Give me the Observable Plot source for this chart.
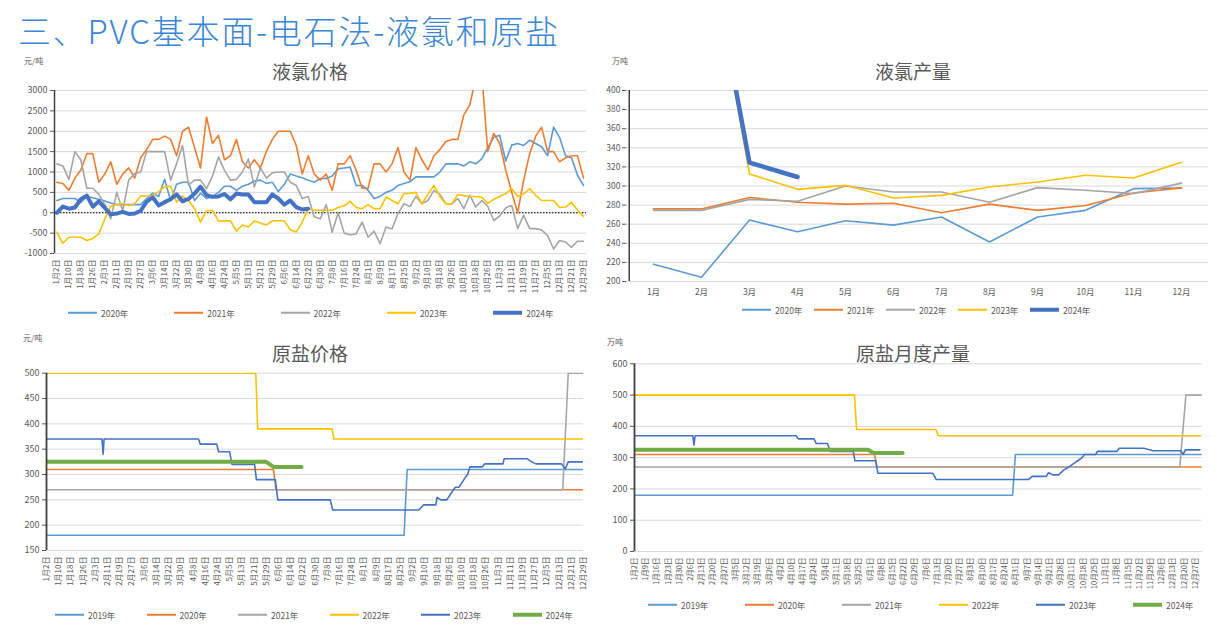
<!DOCTYPE html>
<html><head><meta charset="utf-8">
<script src="https://cdn.jsdelivr.net/npm/d3@7"></script>
<script src="https://cdn.jsdelivr.net/npm/@observablehq/plot@0.6"></script>
<style>
body{margin:0;background:#fff;}
#root{position:relative;width:1226px;height:625px;overflow:hidden;background:#fff;font-family:"Noto Sans CJK SC","Noto Sans",sans-serif;color:#595959;}
.abs{position:absolute;}
.main-title{font-size:33px;font-weight:300;letter-spacing:1.8px;color:#3a86d4;line-height:1;white-space:nowrap;}
.ctitle{font-size:19px;color:#595959;transform:translateX(-50%);white-space:nowrap;line-height:1;}
.unit{font-size:8px;line-height:1;white-space:nowrap;}
.leg{font-size:8.5px;line-height:1;display:flex;align-items:center;white-space:nowrap;transform:translateY(-50%);}
.leg i{display:inline-block;width:29px;margin-right:4px;}
</style></head><body><div id="root"></div>
<script>
// ================= DATA =================
// 液氯价格 (元/吨), category axis, one value every half label step
const dateLabels8 = ["1月2日","1月10日","1月18日","1月26日","2月3日","2月11日","2月19日","2月27日","3月6日","3月14日","3月22日","3月30日","4月8日","4月16日","4月24日","5月5日","5月13日","5月21日","5月29日","6月6日","6月14日","6月22日","6月30日","7月8日","7月16日","7月24日","8月1日","8月9日","8月17日","8月25日","9月2日","9月10日","9月18日","9月26日","10月10日","10月18日","10月26日","11月3日","11月11日","11月19日","11月27日","12月5日","12月13日","12月21日","12月29日"];
const priceTicks = [-1000,-500,0,500,1000,1500,2000,2500,3000];
const price2020 = [300,350, 350,350, 250,400, 370,330, 290,240, 200,200, 200,200, 200,350, 480,400, 820,300, 700,750, 750,300, 480,350, 400,500, 650,650, 550,650, 700,780, 800,720, 750,520, 700,950, 900,860, 800,750, 840,840, 900,1080, 1100,1120, 670,670, 550,350, 400,500, 550,670, 720,760, 880,880, 880,880, 1000,1200, 1200,1200, 1150,1250, 1200,1320, 1600,1850, 1900,1270, 1660,1700, 1650,1780, 1700,1620, 1400,2100, 1850,1400, 1350,920, 670];
const price2021 = [750,720, 550,850, 1050,1450, 1450,750, 950,1250, 700,950, 1100,850, 1350,1550, 1800,1800, 1880,1800, 1400,2000, 2100,1600, 1100,2350, 1700,1900, 1300,1400, 1800,1250, 1100,1300, 1100,1500, 1800,2000, 2000,2000, 1650,950, 1400,950, 800,950, 550,1200, 1200,1400, 1050,600, 600,1200, 1200,1000, 1200,1600, 1000,800, 1600,1300, 1050,1400, 1550,1750, 1800,1800, 2400,2650, 3300,3400, 1500,1950, 1700,1050, 500,0, 800,1450, 1880,2100, 1500,1500, 1250,1350, 1400,1400, 850];
const price2022 = [1200,1150, 820,1500, 1300,600, 600,450, 200,-150, 500,50, 800,960, 1000,1500, 1500,1500, 1500,800, 1200,1650, 680,800, 800,590, 900,1370, 1040,800, 820,1000, 1320,630, 1100,850, 980,1000, 1000,750, 670,350, 400,-100, -150,200, -480,0, -500,-540, -520,-230, -600,-450, -760,-350, -400,-20, 220,150, 400,220, 300,550, 450,220, 220,350, 100,430, 140,300, 160,-190, -80,120, 180,-390, -60,-390, -390,-420, -560,-890, -680,-720, -850,-700, -700];
const price2023 = [-480,-750, -600,-600, -600,-680, -630,-520, -150,160, 200,220, 180,220, 410,410, 420,520, 640,650, 260,410, 300,100, -230,50, 60,-200, -200,-200, -450,-300, -350,-200, -250,-300, -200,-190, -200,-420, -470,-230, 100,60, 60,60, 60,130, 170,280, 130,100, 200,100, 100,385, 300,220, 470,480, 500,220, 450,670, 400,220, 220,450, 420,400, 400,380, 230,330, 400,470, 590,400, 460,590, 430,300, 300,300, 130,140, 260,60, -90];
const price2024 = [0,150, 100,130, 330,420, 150,280, 120,-40, -20,20, -30,-20, 50,270, 380,180, 260,330, 450,280, 340,470, 640,430, 390,400, 460,330, 470,450, 450,260, 260,260, 450,350, 200,300, 140,80, 100];
const priceYears = ["2020年","2021年","2022年","2023年","2024年"];

// 液氯产量 (万吨)
const months = ["1月","2月","3月","4月","5月","6月","7月","8月","9月","10月","11月","12月"];
const outputTicks = [200,220,240,260,280,300,320,340,360,380,400];
const output2020 = [218,204.5,264.3,252,263.6,259,267.5,241.3,267.5,274.5,297.2,297.9];
const output2021 = [276,276,288,283,281,282,272,281,274.5,279.5,292.7,298];
const output2022 = [274.5,274.5,286,284,300,293.7,293.7,283,298.3,295.5,292,303];
const output2023 = [null,596,312.6,296.5,300.7,287.4,290.2,299,304.2,311.2,308.4,324.8];
const output2024 = [null,594,324.5,309.4];
const outputYears = ["2020年","2021年","2022年","2023年","2024年"];

// 原盐价格 (元/吨): [label index, value] break points
const saltTicks = [150,200,250,300,350,400,450,500];
const salt2019 = [[0,180],[29.3,180],[29.55,310],[44,310]];
const salt2020 = [[0,310],[18.6,310],[18.8,270],[44,270]];
const salt2021 = [[0,270],[42.3,270],[42.75,500],[44,500]];
const salt2022 = [[0,500],[17.15,500],[17.3,390],[23.4,390],[23.55,370],[44,370]];
const salt2023 = [[0,370],[4.55,370],[4.64,340],[4.72,370],[12.45,370],[12.6,360],[13.95,360],[14.1,345],[15.0,345],[15.2,320],[17.05,320],[17.2,290],[18.75,290],[18.95,250],[23.25,250],[23.45,230],[30.5,230],[30.9,240],[31.9,240],[32.0,255],[32.3,250],[32.8,250],[33.2,265],[33.5,275],[33.8,275],[34.2,290],[34.5,300],[34.7,315],[35.7,315],[35.9,321],[37.4,321],[37.5,331],[39.4,331],[39.7,326],[40.1,321],[42.2,321],[42.5,311],[42.75,325],[43.9,325]];
const salt2024 = [[0,325],[18.0,325],[18.3,320],[18.6,315],[20.9,315]];
const saltYears = ["2019年","2020年","2021年","2022年","2023年","2024年"];

// 原盐月度产量 (万吨): [label index, value] break points
const dateLabels7 = ["1月2日","1月9日","1月16日","1月23日","1月30日","2月6日","2月13日","2月20日","2月27日","3月5日","3月12日","3月19日","3月26日","4月2日","4月10日","4月17日","4月24日","5月4日","5月11日","5月18日","5月25日","6月1日","6月8日","6月15日","6月22日","6月29日","7月6日","7月13日","7月20日","7月27日","8月3日","8月10日","8月17日","8月24日","8月31日","9月7日","9月14日","9月21日","9月28日","10月11日","10月18日","10月25日","11月1日","11月8日","11月15日","11月22日","11月29日","12月6日","12月13日","12月20日","12月27日"];
const monTicks = [0,100,200,300,400,500,600];
const mon2019 = [[0,180],[33.7,180],[33.95,310],[50.6,310]];
const mon2020 = [[0,310],[21.4,310],[21.6,270],[50.6,270]];
const mon2021 = [[0,270],[48.6,270],[49.15,500],[50.6,500]];
const mon2022 = [[0,500],[19.6,500],[19.8,390],[26.85,390],[27.1,370],[50.5,370]];
const mon2023 = [[0,370],[5.2,370],[5.3,340],[5.4,370],[14.4,370],[14.6,360],[16.0,360],[16.2,345],[17.2,345],[17.45,320],[19.5,320],[19.65,290],[21.5,290],[21.7,250],[26.6,250],[26.9,230],[35.1,230],[35.45,240],[36.7,240],[36.9,252],[37.3,245],[37.8,245],[38.25,260],[38.7,270],[39.1,280],[39.5,290],[39.9,300],[40.1,310],[41.1,310],[41.25,320],[43.0,320],[43.2,330],[45.4,330],[46.2,322],[48.7,322],[48.9,310],[49.1,325],[50.4,325]];
const mon2024 = [[0,325],[20.8,325],[21.3,315],[23.9,315]];

// ================= STYLE =================
const FONT = '"Noto Sans CJK SC","Noto Sans",sans-serif';
const C5 = ["#5b9bd5","#ed7d31","#a5a5a5","#ffc000","#4472c4"];
const C6 = ["#5b9bd5","#ed7d31","#a5a5a5","#ffc000","#4472c4","#70ad47"];
const GRID = "#d9d9d9", AXIS = "#404040";
const baseStyle = {background:"transparent",color:"#595959",fontFamily:FONT,fontSize:"9px",overflow:"visible"};
const plain = d => String(d);

const root = document.getElementById("root");
function place(el, left, top){ el.style.position="absolute"; el.style.left=left+"px"; el.style.top=top+"px"; root.appendChild(el); return el; }
function textDiv(cls, txt, left, top){ const d=document.createElement("div"); d.className="abs "+cls; d.textContent=txt; d.style.left=left+"px"; d.style.top=top+"px"; root.appendChild(d); return d; }
function legend(names, colors, thickLast, x0, step, yc){
  names.forEach((n,k)=>{
    const d=document.createElement("div"); d.className="abs leg";
    const w = (thickLast && k===names.length-1) ? 4 : 2;
    d.innerHTML = `<i style="height:${w}px;background:${colors[k]}"></i><span>${n}</span>`;
    d.style.left=(x0+k*step)+"px"; d.style.top=yc+"px"; root.appendChild(d);
  });
}
const half = arr => arr.map((v,k)=>({x:k/2,y:v}));
const pairs = arr => arr.map(([x,y])=>({x,y}));

textDiv("main-title","三、PVC基本面-电石法-液氯和原盐",18,14);

// ---------- A: 液氯价格 ----------
const priceSeries=[price2020,price2021,price2022,price2023,price2024];
const chartA = Plot.plot({
  width:600,height:300,marginLeft:54,marginRight:14,marginTop:90,marginBottom:47,
  style:baseStyle,
  x:{domain:[-0.2,44.25]}, y:{domain:[-1000,3000]},
  marks:[
    Plot.gridY(priceTicks,{stroke:GRID,strokeOpacity:1}),
    Plot.axisY(priceTicks,{tickSize:4,tickPadding:3,label:null,fontSize:9,tickFormat:plain}),
    Plot.axisX(d3.range(dateLabels8.length),{tickFormat:i=>dateLabels8[i],tickRotate:-90,tickSize:0,tickPadding:6,label:null,fontSize:8}),
    Plot.ruleY([0],{stroke:"#000",strokeDasharray:"1.5 1.5"}),
    ...priceSeries.map((s,k)=>Plot.line(half(s),{x:"x",y:"y",stroke:C5[k],strokeWidth:k===4?4:1.6,clip:true})),
    Plot.ruleX([-0.2],{stroke:AXIS,strokeWidth:1.5})
  ]
});
place(chartA,0,0);
textDiv("ctitle","液氯价格",310,61);
textDiv("unit","元/吨",24,57);
legend(priceYears,C5,true,68,106.3,313);

// ---------- B: 液氯产量 ----------
const outSeries=[output2020,output2021,output2022,output2023,output2024];
const chartB = Plot.plot({
  width:626,height:330,marginLeft:26,marginRight:18,marginTop:90,marginBottom:49,
  style:baseStyle,
  x:{type:"point",domain:months,padding:0.5}, y:{domain:[200,400]},
  marks:[
    Plot.gridY(outputTicks,{stroke:GRID,strokeOpacity:1}),
    Plot.axisY(outputTicks,{tickSize:4,tickPadding:2,label:null,fontSize:8.5,tickFormat:plain}),
    Plot.axisX(months,{tickSize:0,tickPadding:7,label:null,fontSize:8.5}),
    ...outSeries.map((s,k)=>Plot.line(s.map((v,j)=>({m:months[j],v})),{x:"m",y:"v",stroke:C5[k],strokeWidth:k===4?4.5:1.6,clip:true})),
    Plot.ruleX([months[0]],{dx:-24.25,stroke:AXIS,strokeWidth:1.5})
  ]
});
place(chartB,600,0);
textDiv("ctitle","液氯产量",913,61);
textDiv("unit","万吨",612,57);
legend(outputYears,C5,true,742,72,310);

// ---------- C: 原盐价格 ----------
const saltSeries=[salt2019,salt2020,salt2021,salt2022,salt2023,salt2024];
const chartC = Plot.plot({
  width:600,height:295,marginLeft:46,marginRight:17,marginTop:42.7,marginBottom:75,
  style:baseStyle,
  x:{domain:[0,44]}, y:{domain:[150,500]},
  marks:[
    Plot.gridY(saltTicks,{stroke:GRID,strokeOpacity:1}),
    Plot.axisY(saltTicks,{tickSize:4,tickPadding:3,label:null,fontSize:9,tickFormat:plain}),
    Plot.axisX(d3.range(dateLabels8.length),{tickFormat:i=>dateLabels8[i],tickRotate:-90,tickSize:0,tickPadding:6,label:null,fontSize:8}),
    ...saltSeries.map((s,k)=>Plot.line(pairs(s),{x:"x",y:"y",stroke:C6[k],strokeWidth:k===5?4:1.6,clip:true})),
    Plot.ruleX([0],{stroke:AXIS,strokeWidth:1.8})
  ]
});
place(chartC,0,330);
textDiv("ctitle","原盐价格",310,343);
textDiv("unit","元/吨",23,334);
legend(saltYears,C6,true,55,91.5,615);

// ---------- D: 原盐月度产量 ----------
const monSeries=[mon2019,mon2020,mon2021,mon2022,mon2023,mon2024];
const chartD = Plot.plot({
  width:626,height:295,marginLeft:34,marginRight:24.3,marginTop:33.3,marginBottom:74,
  style:baseStyle,
  x:{domain:[0,50.6]}, y:{domain:[0,600]},
  marks:[
    Plot.gridY(monTicks,{stroke:GRID,strokeOpacity:1}),
    Plot.axisY(monTicks,{tickSize:4,tickPadding:3,label:null,fontSize:9,tickFormat:plain}),
    Plot.axisX(d3.range(dateLabels7.length),{tickFormat:i=>dateLabels7[i],tickRotate:-90,tickSize:0,tickPadding:6,label:null,fontSize:7.5}),
    ...monSeries.map((s,k)=>Plot.line(pairs(s),{x:"x",y:"y",stroke:C6[k],strokeWidth:k===5?4:1.6,clip:true})),
    Plot.ruleX([0],{stroke:AXIS,strokeWidth:1.8})
  ]
});
place(chartD,600,330);
textDiv("ctitle","原盐月度产量",913,343);
textDiv("unit","万吨",607,338);
legend(saltYears,C6,true,648,97,605);
</script></body></html>
